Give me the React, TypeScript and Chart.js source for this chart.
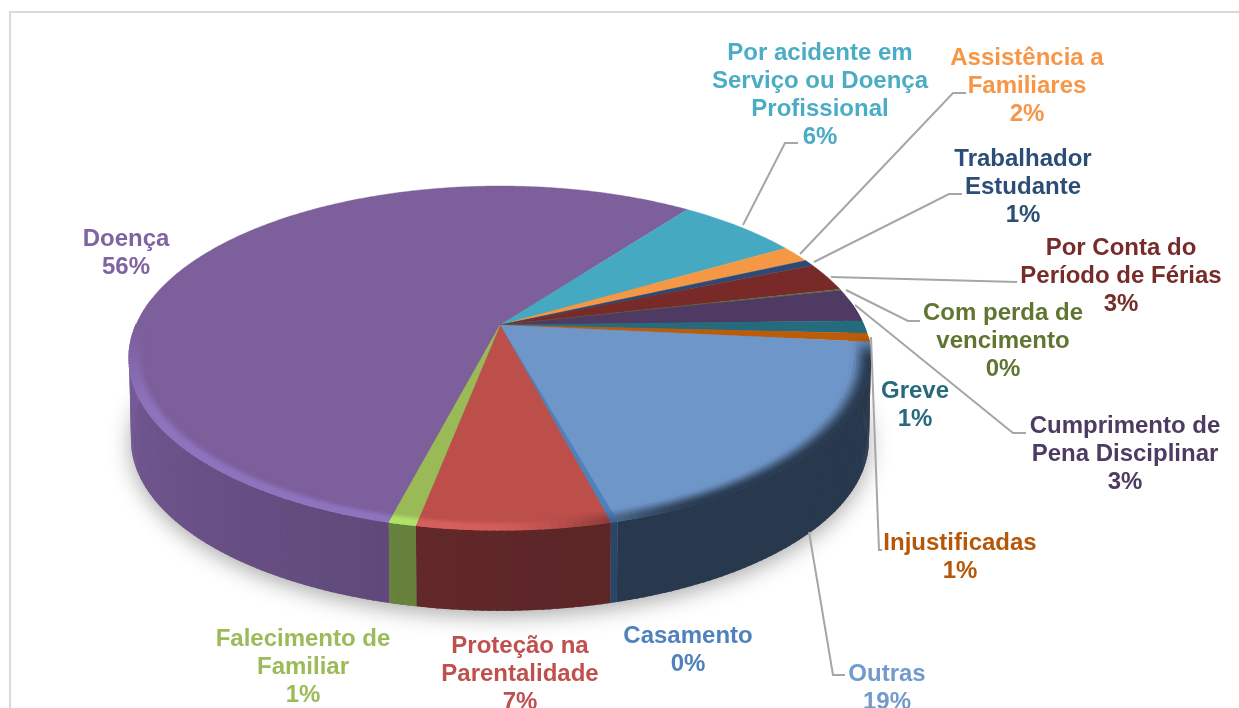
import React, { useEffect, useRef } from "react";
import { Chart, registerables } from "chart.js";

Chart.register(...registerables);

const categories = [
  ["Doença"],
  ["Por acidente em", "Serviço ou Doença", "Profissional"],
  ["Assistência a", "Familiares"],
  ["Trabalhador", "Estudante"],
  ["Por Conta do", "Período de Férias"],
  ["Com perda de", "vencimento"],
  ["Cumprimento de", "Pena Disciplinar"],
  ["Greve"],
  ["Injustificadas"],
  ["Outras"],
  ["Casamento"],
  ["Proteção na", "Parentalidade"],
  ["Falecimento de", "Familiar"],
];
const percentValues = [56.2, 6.4, 1.6, 0.6, 2.7, 0.1, 3.1, 1.2, 0.8, 19.2, 0.25, 7, 1];

const topColors = ["#7d5f9c", "#46a9c2", "#f59845", "#2b4a78", "#772a28", "#5f7530", "#4e3a62", "#246b7e", "#bc5c08", "#6f96c9", "#4f81bd", "#bd4f4b", "#9aba57"];
const sideColors = ["#5e4878", "#2f6f80", "#a0642e", "#1d3150", "#4f1c1b", "#3f4e20", "#342741", "#184754", "#7d3d05", "#2b3c52", "#2b4a70", "#62282a", "#65803c"];
const textColors = ["#8064a2", "#4bacc6", "#f79646", "#2c4d75", "#772c2a", "#5f7530", "#4d3b62", "#276a7c", "#b65708", "#729aca", "#4f81bd", "#c0504d", "#9bbb59"];

// Label anchors: centre x, centre y of the first line.
const labelAnchors = [
  [126, 239], [820, 53], [1027, 58], [1023, 159], [1121, 248], [1003, 313],
  [1125, 426], [915, 391], [960, 543], [887, 674], [688, 636], [520, 646], [303, 639],
];
const leaderLines: number[][][] = [
  [],
  [[743, 225], [785, 143], [798, 143]],
  [[800, 254], [953, 93], [966, 93]],
  [[814, 262], [949, 194], [962, 194]],
  [[831, 277], [1017, 282]],
  [[846, 290], [908, 321], [920, 321]],
  [[855, 305], [1013, 433], [1026, 433]],
  [],
  [[871, 337], [879, 550], [882, 550]],
  [[809, 532], [833, 675], [845, 675]],
  [],
  [],
  [],
];

const FONT = 'bold 24px "Liberation Sans", Arial, sans-serif';
const LINE = 28;
const TILT = -0.192;
const YSCALE = 165.7;
const DEPTH = 82;
const FOOT = 0.995;

const hex = (c: string) => [1, 3, 5].map((i) => parseInt(c.slice(i, i + 2), 16));
const mix = (a: number[], b: number[], t: number) => a.map((v, i) => v + (b[i] - v) * t);
const css = (c: number[]) => `rgb(${c.map((v) => Math.round(Math.min(255, Math.max(0, v)))).join(",")})`;
const smooth = (e0: number, e1: number, x: number) => {
  const t = Math.min(1, Math.max(0, (x - e0) / (e1 - e0)));
  return t * t * (3 - 2 * t);
};

const piePlugin = {
  id: "tiltedPie",
  beforeDraw(chart: any) {
    const { ctx, width, height } = chart;
    ctx.save();
    ctx.fillStyle = "#ffffff";
    ctx.fillRect(0, 0, width, height);
    ctx.fillStyle = "#d9d9d9";
    ctx.fillRect(10, 11, width - 10, 2);
    ctx.fillRect(9, 11, 2, height - 11);
    ctx.restore();
  },
  beforeDatasetDraw(chart: any, args: any) {
    const { ctx } = chart;
    const arcs = chart.getDatasetMeta(args.index).data;
    const first = arcs[0];
    const cx = first.x, cy = first.y, R = first.outerRadius;
    const project = (a: number, r = 1, drop = 0) => {
      const u = Math.cos(a) * r, v = Math.sin(a) * r;
      const w = 1 + TILT * v;
      return [cx + (R * u) / w, cy + (YSCALE * v) / w + drop];
    };
    const STEP = Math.PI / 360;
    const OVER = 0.006;
    const rim = (start: number, end: number, r = 1, drop = 0) => {
      const pts = [];
      const n = Math.max(1, Math.ceil((end - start) / STEP));
      for (let i = 0; i <= n; i++) pts.push(project(start + ((end - start) * i) / n, r, drop));
      return pts;
    };
    const poly = (pts: number[][]) => {
      ctx.beginPath();
      pts.forEach((p, i) => (i ? ctx.lineTo(p[0], p[1]) : ctx.moveTo(p[0], p[1])));
      ctx.closePath();
    };
    ctx.save();
    ctx.lineJoin = "round";

    // soft shadow under the disc
    ctx.save();
    ctx.shadowColor = "rgba(0,0,0,0.34)";
    ctx.shadowBlur = 22;
    ctx.shadowOffsetY = 5;
    ctx.fillStyle = "#888888";
    poly(rim(0, Math.PI * 2, FOOT, DEPTH));
    ctx.fill();
    ctx.restore();

    // side wall
    arcs.forEach((arc: any, idx: number) => {
      const base = hex(sideColors[idx]);
      const n = Math.max(1, Math.ceil((arc.endAngle - arc.startAngle) / (Math.PI / 180)));
      for (let i = 0; i < n; i++) {
        const a0 = arc.startAngle + ((arc.endAngle - arc.startAngle) * i) / n;
        const a1 = arc.startAngle + ((arc.endAngle - arc.startAngle) * (i + 1)) / n;
        const mid = (a0 + a1) / 2;
        if (Math.sin(mid) < -0.15) continue;
        const deg = ((mid * 180) / Math.PI + 360) % 360;
        const m = deg > 270 ? 1 : 1 + Math.max(-0.06, (Math.min(deg, 185) - 100) * 0.0033);
        ctx.fillStyle = css(base.map((v) => v * m));
        const a2 = i < n - 1 ? a1 + OVER : a1;
        poly([project(a0), project(a2), project(a2, FOOT, DEPTH), project(a0, FOOT, DEPTH)]);
        ctx.fill();
      }
    });

    // top face
    arcs.forEach((arc: any) => {
      poly([[cx, cy], ...rim(arc.startAngle, arc.endAngle)]);
      ctx.fillStyle = arc.options.backgroundColor;
      ctx.strokeStyle = arc.options.backgroundColor;
      ctx.lineWidth = 0.4;
      ctx.fill();
      ctx.stroke();
    });

    // bevel on the near rim
    const radial = [0.945, 0.955, 0.963, 0.97, 0.976, 0.982, 0.987, 0.992, 0.996, 1];
    arcs.forEach((arc: any, idx: number) => {
      const base = hex(arc.options.backgroundColor);
      const dark = hex(sideColors[idx]);
      const lit = base.map((v, i) => v * (i === 0 ? 1.14 : 1.22));
      const n = Math.max(1, Math.ceil((arc.endAngle - arc.startAngle) / (Math.PI / 180)));
      for (let i = 0; i < n; i++) {
        const a0 = arc.startAngle + ((arc.endAngle - arc.startAngle) * i) / n;
        const a1 = arc.startAngle + ((arc.endAngle - arc.startAngle) * (i + 1)) / n;
        let deg = (((a0 + a1) / 2) * 180) / Math.PI;
        deg = (((deg + 90) % 360) + 360) % 360 - 90;
        const light = smooth(68, 100, deg) * (1 - smooth(148, 182, deg));
        const shade = (1 - smooth(62, 90, deg)) * smooth(3, 12, deg);
        if (light < 0.01 && shade < 0.01) continue;
        const a2 = i < n - 1 ? a1 + OVER : a1;
        for (let j = 0; j < radial.length - 1; j++) {
          const rm = (radial[j] + radial[j + 1]) / 2;
          const lt = smooth(0.958, 0.985, rm);
          const sh = smooth(0.945, 0.995, rm);
          let col = mix(base, lit, lt * light);
          col = mix(col, dark, sh * shade);
          ctx.fillStyle = css(col);
          poly([project(a0, radial[j]), project(a2, radial[j]), project(a2, radial[j + 1] + 0.002), project(a0, radial[j + 1] + 0.002)]);
          ctx.fill();
        }
      }
    });
    ctx.restore();
    return false;
  },
  afterDatasetsDraw(chart: any) {
    const { ctx } = chart;
    const values = chart.data.datasets[0].data as number[];
    ctx.save();
    ctx.strokeStyle = "#a6a6a6";
    ctx.lineWidth = 2;
    leaderLines.forEach((pts) => {
      if (!pts.length) return;
      ctx.beginPath();
      pts.forEach((p, i) => (i ? ctx.lineTo(p[0], p[1]) : ctx.moveTo(p[0], p[1])));
      ctx.stroke();
    });
    ctx.font = FONT;
    ctx.textAlign = "center";
    ctx.textBaseline = "middle";
    categories.forEach((lines, idx) => {
      const [x, y] = labelAnchors[idx];
      ctx.fillStyle = textColors[idx];
      [...lines, `${Math.round(values[idx])}%`].forEach((t, i) => ctx.fillText(t, x, y + i * LINE));
    });
    ctx.restore();
  },
};

export default function App() {
  const ref = useRef<HTMLCanvasElement>(null);
  useEffect(() => {
    document.body.style.margin = "0";
    const chart = new Chart(ref.current as HTMLCanvasElement, {
      type: "pie",
      data: {
        labels: categories.map((c) => c.join(" ")),
        datasets: [{ data: percentValues, backgroundColor: topColors, borderWidth: 0, radius: 364 } as any],
      },
      options: {
        responsive: false,
        animation: false,
        rotation: 194.4,
        layout: { padding: { left: 0, right: 239, top: 0, bottom: 58 } },
        plugins: { legend: { display: false }, tooltip: { enabled: false } },
      },
      plugins: [piePlugin],
    } as any);
    return () => chart.destroy();
  }, []);
  return (
    <div style={{ width: 1239, height: 708, overflow: "hidden" }}>
      <canvas ref={ref} width={1239} height={708} style={{ display: "block" }} />
    </div>
  );
}
